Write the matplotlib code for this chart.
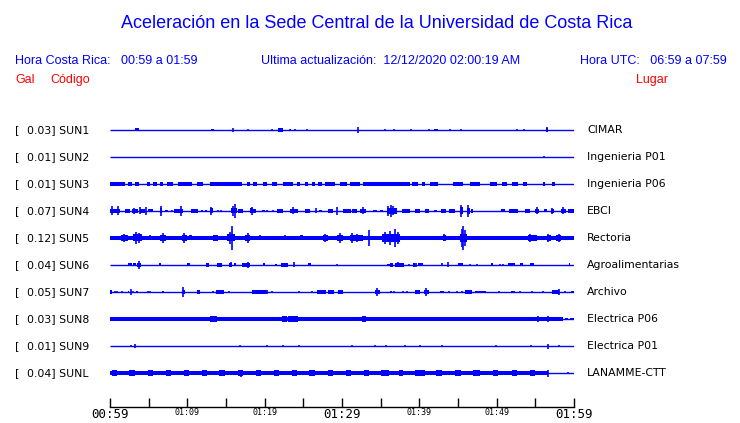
import numpy as np
import matplotlib
matplotlib.use("Agg")
import matplotlib.pyplot as plt
from matplotlib.transforms import blended_transform_factory

# station info
codes = ["SUN1", "SUN2", "SUN3", "SUN4", "SUN5", "SUN6", "SUN7", "SUN8", "SUN9", "SUNL"]
peak_gal = [0.03, 0.01, 0.01, 0.07, 0.12, 0.04, 0.05, 0.03, 0.01, 0.04]
places = ["CIMAR", "Ingenieria P01", "Ingenieria P06", "EBCI", "Rectoria",
          "Agroalimentarias", "Archivo", "Electrica P06", "Electrica P01", "LANAMME-CTT"]

# time axis (minutes after 00:59 local)
tick_min = [0, 5, 10, 15, 20, 25, 30, 35, 40, 45, 50, 55, 60]
tick_text = ["00:59", "", "01:09", "", "01:19", "", "01:29", "", "01:39", "", "01:49", "", "01:59"]

# envelope: blocks (start, end, half amplitude in Gal), spikes (t, amp)
sun1_blocks = [(3.2, 3.7, 0.015), (13.0, 13.4, 0.012), (21.7, 22.4, 0.02), (41.9, 42.4, 0.012),
               (56.4, 56.7, 0.02)]
sun1_spikes = [(15.9, 0.02), (17.8, 0.008), (21.0, 0.008), (23.3, 0.01), (23.9, 0.008),
               (25.5, 0.01), (32.1, 0.033), (35.6, 0.01), (36.7, 0.012), (38.9, 0.008),
               (41.3, 0.01), (44.0, 0.01), (45.4, 0.012), (52.6, 0.008), (53.5, 0.008),
               (56.5, 0.025)]

sun2_blocks = []
sun2_spikes = [(56.1, 0.01)]

sun3_blocks = [(0.0, 1.9, 0.016), (2.3, 2.8, 0.016), (3.2, 3.7, 0.016), (4.8, 5.2, 0.016),
               (5.6, 6.1, 0.016), (6.5, 6.9, 0.016), (7.4, 8.1, 0.016), (8.8, 10.6, 0.016),
               (11.2, 12.0, 0.016), (12.9, 17.1, 0.016), (17.7, 18.1, 0.016), (18.5, 19.0, 0.016),
               (19.8, 20.3, 0.016), (20.9, 21.6, 0.016), (22.4, 23.7, 0.016), (24.2, 24.6, 0.016),
               (25.2, 25.6, 0.016), (26.1, 26.5, 0.016), (26.9, 27.4, 0.016), (27.8, 29.1, 0.016),
               (29.7, 30.6, 0.016), (31.0, 32.3, 0.016), (32.7, 38.8, 0.016), (39.0, 39.8, 0.016),
               (40.3, 40.7, 0.016), (41.4, 42.4, 0.016), (44.4, 45.6, 0.016), (46.5, 47.8, 0.016),
               (49.1, 50.0, 0.016), (50.7, 51.3, 0.016), (52.0, 52.8, 0.016), (53.4, 53.9, 0.016),
               (56.0, 56.2, 0.016), (57.2, 57.5, 0.016)]
sun3_spikes = []

sun4_blocks = [(0.0, 1.3, 0.02), (1.9, 2.6, 0.017), (2.8, 3.6, 0.02), (3.9, 4.5, 0.018),
               (4.9, 5.6, 0.015), (6.5, 6.7, 0.025), (7.1, 7.5, 0.012), (8.3, 9.4, 0.018),
               (10.5, 11.4, 0.017), (11.8, 12.0, 0.012), (12.3, 12.5, 0.012), (12.9, 13.3, 0.025),
               (15.6, 16.4, 0.025), (16.6, 17.2, 0.018), (18.1, 18.5, 0.025), (18.5, 18.9, 0.018),
               (19.7, 20.0, 0.012), (21.6, 22.4, 0.018), (23.3, 24.3, 0.022), (25.2, 25.9, 0.017),
               (27.0, 27.4, 0.012), (28.2, 28.8, 0.018), (30.1, 31.2, 0.02), (31.3, 31.9, 0.018),
               (32.3, 33.1, 0.022), (34.0, 34.5, 0.012), (34.9, 35.3, 0.012), (35.8, 37.1, 0.03),
               (37.8, 38.8, 0.018), (39.4, 40.1, 0.018), (40.7, 41.2, 0.018), (41.9, 42.3, 0.012),
               (42.8, 43.4, 0.018), (43.8, 44.6, 0.016), (45.3, 45.6, 0.035), (46.2, 46.5, 0.03),
               (46.7, 46.9, 0.018), (50.6, 51.1, 0.015), (51.6, 52.8, 0.018), (53.7, 54.3, 0.016),
               (55.0, 55.5, 0.022), (56.1, 56.5, 0.015), (57.0, 57.4, 0.02), (58.3, 59.0, 0.022),
               (59.2, 60.0, 0.018)]
sun4_spikes = [(0.3, 0.045), (1.0, 0.045), (3.1, 0.03), (3.9, 0.035), (4.65, 0.04), (6.6, 0.05),
               (8.0, 0.01), (9.2, 0.05), (13.1, 0.04), (14.0, 0.01), (14.4, 0.01), (15.9, 0.05),
               (16.2, 0.07), (18.3, 0.04), (20.3, 0.01), (21.1, 0.01), (23.6, 0.035), (26.6, 0.025),
               (29.4, 0.04), (32.7, 0.035), (36.0, 0.05), (36.3, 0.058), (36.6, 0.045),
               (45.4, 0.065), (46.3, 0.06), (55.2, 0.035), (57.2, 0.03), (58.6, 0.035)]

sun5_base = [(0.0, 60.0, 0.02)]
sun5_blocks = [(1.4, 2.3, 0.03), (3.0, 4.1, 0.035), (6.5, 7.2, 0.03), (9.3, 10.0, 0.03),
               (10.2, 10.6, 0.025), (13.3, 14.0, 0.028), (15.1, 16.2, 0.035), (17.5, 18.1, 0.03),
               (24.6, 25.0, 0.025), (27.5, 28.2, 0.028), (29.4, 30.1, 0.03), (31.0, 32.7, 0.03),
               (35.2, 37.5, 0.04), (43.1, 43.4, 0.028), (45.3, 46.2, 0.04), (47.8, 48.5, 0.022),
               (49.5, 50.4, 0.022), (54.0, 55.2, 0.03), (56.5, 57.0, 0.028), (57.7, 58.3, 0.03)]
sun5_spikes = [(1.8, 0.043), (3.3, 0.06), (3.7, 0.05), (5.2, 0.025), (6.8, 0.05), (9.6, 0.05),
               (15.5, 0.06), (15.8, 0.12), (17.8, 0.05), (19.4, 0.025), (22.6, 0.025),
               (27.8, 0.04), (29.7, 0.05), (31.3, 0.05), (32.0, 0.045), (33.5, 0.08),
               (35.5, 0.06), (36.2, 0.07), (36.9, 0.09), (37.2, 0.06), (43.2, 0.035),
               (45.5, 0.09), (45.7, 0.12), (45.9, 0.08), (54.3, 0.045), (56.7, 0.04),
               (58.0, 0.045), (59.5, 0.015)]

sun6_blocks = [(2.3, 2.8, 0.015), (3.0, 3.4, 0.015), (3.5, 4.0, 0.02), (6.3, 6.6, 0.015),
               (10.0, 10.3, 0.015), (12.4, 12.8, 0.017), (13.8, 14.5, 0.017), (15.4, 15.8, 0.022),
               (16.0, 16.3, 0.015), (17.1, 18.1, 0.017), (19.8, 20.0, 0.015), (21.3, 21.6, 0.012),
               (22.1, 23.0, 0.017), (25.6, 26.0, 0.015), (35.8, 36.2, 0.012), (36.2, 36.6, 0.017),
               (36.9, 38.0, 0.02), (39.2, 39.4, 0.017), (39.8, 40.5, 0.015), (45.0, 45.6, 0.015),
               (49.3, 49.5, 0.015), (51.5, 52.4, 0.015), (53.0, 53.4, 0.015), (54.3, 54.8, 0.015),
               (59.4, 59.5, 0.015)]
sun6_spikes = [(3.7, 0.04), (15.6, 0.025), (17.8, 0.03), (23.8, 0.025), (29.4, 0.01), (37.3, 0.025),
               (38.7, 0.01), (39.6, 0.02), (42.9, 0.015), (43.7, 0.025), (46.6, 0.01), (47.5, 0.01),
               (50.4, 0.01), (50.8, 0.01)]

sun7_blocks = [(0.0, 0.3, 0.017), (2.3, 2.5, 0.015), (3.4, 3.6, 0.015), (6.7, 7.0, 0.015),
               (9.3, 9.7, 0.022), (11.2, 11.6, 0.022), (13.7, 14.7, 0.017), (18.4, 20.3, 0.016),
               (26.8, 27.9, 0.02), (28.2, 29.0, 0.017), (29.5, 30.1, 0.017), (34.3, 34.9, 0.025),
               (36.2, 36.5, 0.012), (39.4, 40.1, 0.017), (40.6, 41.2, 0.025), (42.7, 43.2, 0.015),
               (45.9, 46.8, 0.017), (47.2, 48.6, 0.015), (51.9, 52.4, 0.015), (57.2, 58.1, 0.02),
               (59.6, 60.0, 0.015)]
sun7_spikes = [(0.65, 0.01), (0.9, 0.01), (1.55, 0.008), (2.7, 0.03), (3.0, 0.012), (4.9, 0.01),
               (5.2, 0.01), (9.4, 0.05), (11.4, 0.025), (13.3, 0.01), (14.0, 0.025), (15.4, 0.01),
               (20.3, 0.02), (21.0, 0.01), (24.4, 0.008), (26.1, 0.008), (27.2, 0.025),
               (34.5, 0.04), (36.7, 0.01), (37.9, 0.01), (38.4, 0.01), (40.9, 0.043), (43.8, 0.01),
               (44.9, 0.01), (45.5, 0.01), (50.3, 0.01), (53.0, 0.01), (54.6, 0.01), (56.0, 0.01),
               (58.1, 0.035), (58.8, 0.01)]

sun8_base = [(0.0, 57.0, 0.021)]
sun8_blocks = [(12.9, 13.8, 0.026), (22.2, 22.9, 0.027), (23.0, 24.3, 0.027), (32.6, 33.1, 0.026),
               (57.0, 58.6, 0.018), (58.8, 59.2, 0.015), (59.5, 60.0, 0.015)]
sun8_spikes = [(2.45, 0.025), (3.2, 0.025), (13.3, 0.03), (22.5, 0.03), (23.6, 0.03), (31.9, 0.025),
               (55.3, 0.03), (56.6, 0.035)]

sun9_blocks = []
sun9_spikes = [(2.7, 0.012), (3.2, 0.02), (16.8, 0.012), (20.3, 0.01), (22.4, 0.01), (24.4, 0.01),
               (31.3, 0.01), (34.3, 0.01), (35.7, 0.012), (38.1, 0.01), (40.1, 0.01), (42.9, 0.01),
               (49.9, 0.01), (54.4, 0.012), (56.6, 0.025), (58.1, 0.012)]

sunl_base = [(0.0, 56.6, 0.021)]
sunl_blocks = [(0.3, 0.9, 0.032), (2.5, 3.2, 0.032), (4.9, 5.6, 0.032), (7.2, 7.9, 0.032),
               (9.6, 10.2, 0.032), (11.9, 12.5, 0.032), (14.1, 14.9, 0.032), (16.6, 17.2, 0.032),
               (18.9, 19.5, 0.032), (21.2, 21.9, 0.032), (23.5, 24.2, 0.032), (25.7, 26.5, 0.032),
               (28.2, 28.8, 0.032), (30.5, 31.2, 0.032), (32.8, 33.5, 0.032), (35.0, 36.1, 0.032),
               (37.4, 37.9, 0.032), (39.4, 40.7, 0.032), (42.2, 42.9, 0.032), (44.6, 45.4, 0.032),
               (46.9, 47.8, 0.032), (49.5, 50.2, 0.032), (52.0, 52.6, 0.032), (54.3, 55.0, 0.032)]
sunl_spikes = [(16.9, 0.035), (56.6, 0.035), (59.2, 0.008)]

blocks = [sun1_blocks, sun2_blocks, sun3_blocks, sun4_blocks, sun5_base + sun5_blocks,
          sun6_blocks, sun7_blocks, sun8_base + sun8_blocks, sun9_blocks, sunl_base + sunl_blocks]
spikes = [sun1_spikes, sun2_spikes, sun3_spikes, sun4_spikes, sun5_spikes,
          sun6_spikes, sun7_spikes, sun8_spikes, sun9_spikes, sunl_spikes]

BLUE = "#0000ff"
scale = 3.7  # trace units per Gal

fig = plt.figure(figsize=(7.4, 4.23), dpi=100)
ax = fig.add_axes([110 / 740, 16 / 423, 464 / 740, 289 / 423])

for i in range(len(codes)):
    y = i + 1
    ax.hlines(y, 0, 60, color=BLUE, lw=1.0)
    for t0, t1, a in blocks[i]:
        ax.bar(t0, 2 * a * scale, width=t1 - t0, bottom=y - a * scale, align="edge",
               color=BLUE, linewidth=0)
    for t, a in spikes[i]:
        ax.vlines(t, y - a * scale, y + a * scale, color=BLUE, lw=1.2)

ax.set_xlim(0, 60)
ax.set_ylim(11.259, 0.556)
ax.set_yticks([])
for s in ["top", "left", "right"]:
    ax.spines[s].set_visible(False)
ax.spines["bottom"].set_linewidth(1.0)
ax.set_xticks(tick_min)
ax.set_xticklabels(tick_text, family="DejaVu Sans Mono")
ax.tick_params(axis="x", direction="in", length=6.5, width=1.0, pad=1)
for k, lab in enumerate(ax.get_xticklabels()):
    lab.set_fontsize(9 if k % 6 == 0 else 6)

# station labels
tr = blended_transform_factory(fig.transFigure, ax.transData)
for i in range(len(codes)):
    y = i + 1
    ax.text(15 / 740, y, "[", transform=tr, fontsize=8, va="center", ha="left", clip_on=False)
    ax.text(27 / 740, y, f"{peak_gal[i]:.2f}] {codes[i]}", transform=tr, fontsize=7.8,
            va="center", ha="left", clip_on=False)
    ax.text(587 / 740, y, places[i], transform=tr, fontsize=7.8, va="center", ha="left",
            clip_on=False)

# header
hfont = "Liberation Sans"
fig.text(377 / 740, 1 - 23 / 423, "Aceleración en la Sede Central de la Universidad de Costa Rica",
         color=BLUE, fontsize=13, family=hfont, ha="center", va="center")
fig.text(15 / 740, 1 - 61 / 423, "Hora Costa Rica:   00:59 a 01:59", color=BLUE, fontsize=9,
         family=hfont, ha="left", va="center")
fig.text(261 / 740, 1 - 61 / 423, "Ultima actualización:  12/12/2020 02:00:19 AM", color=BLUE,
         fontsize=9, family=hfont, ha="left", va="center")
fig.text(727 / 740, 1 - 61 / 423, "Hora UTC:   06:59 a 07:59", color=BLUE, fontsize=9,
         family=hfont, ha="right", va="center")
fig.text(15 / 740, 1 - 80 / 423, "Gal", color="red", fontsize=9, family=hfont, ha="left", va="center")
fig.text(50 / 740, 1 - 80 / 423, "Código", color="red", fontsize=9, family=hfont, ha="left",
         va="center")
fig.text(636 / 740, 1 - 80 / 423, "Lugar", color="red", fontsize=9, family=hfont, ha="left",
         va="center")

fig.savefig("out.png", dpi=100)
